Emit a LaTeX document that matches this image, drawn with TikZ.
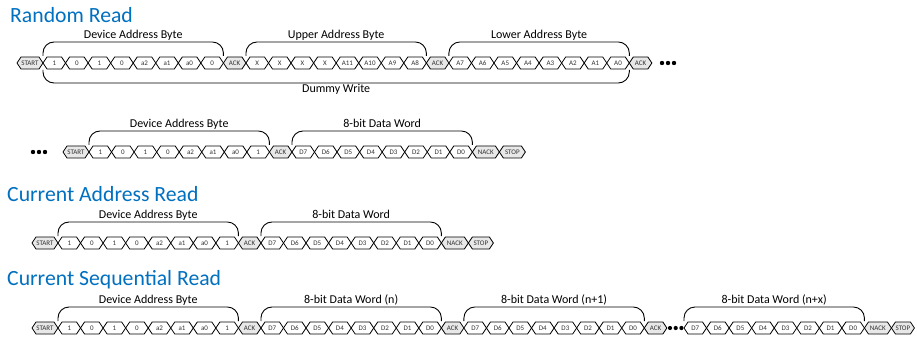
\documentclass[tikz,border=0pt]{standalone}
\usepackage{fontspec}
\setmainfont{Carlito}
\usetikzlibrary{calc}
\definecolor{titleblue}{RGB}{0,112,192}
\colorlet{cw}{white}
\definecolor{cg}{RGB}{232,232,232}
\definecolor{celltxt}{RGB}{50,50,50}
\tikzset{
  cellline/.style={draw=black, line width=0.8pt, line join=miter},
  celltext/.style={font=\fontsize{7}{8}\selectfont, text=celltxt, inner sep=0pt},
  bracepath/.style={draw=black, line width=0.9pt, rounded corners=11pt},
  bracelab/.style={font=\fontsize{12}{14}\selectfont, anchor=base, inner sep=0pt},
  titletext/.style={font=\fontsize{21.7}{24}\selectfont, text=titleblue, anchor=base west, inner sep=0pt},
  dotfill/.style={fill=black}
}
\newcommand\drawcell[6]{%
  \filldraw[cellline, fill=#5] (#2,#4) -- ({#2+4},{#4-6}) -- ({#3-4},{#4-6}) -- (#3,#4) -- ({#3-4},{#4+6}) -- ({#2+4},{#4+6}) -- cycle;
  \coordinate (#1-L) at (#2,#4);
  \coordinate (#1-R) at (#3,#4);
  \node[celltext] (#1) at ({(#2+#3)/2},#4) {#6};
}
\newcommand\busrow[4]{%
  \xdef\curx{#3}%
  \foreach \lab/\w/\f [count=\i] in {#4} {%
    \pgfmathsetmacro\nx{\curx+\w}%
    \drawcell{#1\i}{\curx}{\nx}{#2}{\f}{\lab}%
    \xdef\curx{\nx}%
  }%
}
\newcommand\topbrace[4]{%
  \draw[bracepath] ($(#2)+(0,-7)$) |- ($(#2)!0.5!(#3)+(0,-21)$) -| ($(#3)+(0,-7)$);
  \node[bracelab] (#1) at ($(#2)!0.5!(#3)+(0,-24.5)$) {#4};
}
\def\p{22.55}
\begin{document}
\begin{tikzpicture}[x=1pt,y=-1pt]
\fill[white] (0,0) rectangle (917,339);
\useasboundingbox (0,0) rectangle (917,339);
% titles
\node[titletext] (t1) at (10,22.3) {Random Read};
\node[titletext] (t2) at (7,201) {Current Address Read};
\node[titletext] (t3) at (7,285) {Current Sequential Read};
% row 1
\busrow{r1c}{63}{17}{START/26/cg, 1/\p/cw, 0/\p/cw, 1/\p/cw, 0/\p/cw, a2/\p/cw, a1/\p/cw, a0/\p/cw, 0/\p/cw, ACK/\p/cg, X/\p/cw, X/\p/cw, X/\p/cw, X/\p/cw, A11/\p/cw, A10/\p/cw, A9/\p/cw, A8/\p/cw, ACK/\p/cg, A7/\p/cw, A6/\p/cw, A5/\p/cw, A4/\p/cw, A3/\p/cw, A2/\p/cw, A1/\p/cw, A0/\p/cw, ACK/\p/cg}
\topbrace{b11}{r1c2-L}{r1c9-R}{Device Address Byte}
\topbrace{b12}{r1c11-L}{r1c18-R}{Upper Address Byte}
\topbrace{b13}{r1c20-L}{r1c27-R}{Lower Address Byte}
\draw[bracepath] ($(r1c2-L)+(0,7)$) |- ($(r1c2-L)!0.5!(r1c27-R)+(0,20)$) -| ($(r1c27-R)+(0,7)$);
\node[bracelab] (b14) at ($(r1c2-L)!0.5!(r1c27-R)+(0,30)$) {Dummy Write};
\foreach \k in {0,1,2} \fill[dotfill] (662+6*\k,63) circle (2.2);
% row 2
\foreach \k in {0,1,2} \fill[dotfill] (33+6*\k,152) circle (2.2);
\busrow{r2c}{152}{63}{START/26/cg, 1/\p/cw, 0/\p/cw, 1/\p/cw, 0/\p/cw, a2/\p/cw, a1/\p/cw, a0/\p/cw, 1/\p/cw, ACK/\p/cg, D7/\p/cw, D6/\p/cw, D5/\p/cw, D4/\p/cw, D3/\p/cw, D2/\p/cw, D1/\p/cw, D0/\p/cw, NACK/27/cg, STOP/26/cg}
\topbrace{b21}{r2c2-L}{r2c9-R}{Device Address Byte}
\topbrace{b22}{r2c11-L}{r2c18-R}{8-bit Data Word}
% row 3
\busrow{r3c}{243}{32}{START/26/cg, 1/\p/cw, 0/\p/cw, 1/\p/cw, 0/\p/cw, a2/\p/cw, a1/\p/cw, a0/\p/cw, 1/\p/cw, ACK/\p/cg, D7/\p/cw, D6/\p/cw, D5/\p/cw, D4/\p/cw, D3/\p/cw, D2/\p/cw, D1/\p/cw, D0/\p/cw, NACK/27/cg, STOP/25/cg}
\topbrace{b31}{r3c2-L}{r3c9-R}{Device Address Byte}
\topbrace{b32}{r3c11-L}{r3c18-R}{8-bit Data Word}
% row 4
\busrow{r4c}{328}{32}{START/26/cg, 1/\p/cw, 0/\p/cw, 1/\p/cw, 0/\p/cw, a2/\p/cw, a1/\p/cw, a0/\p/cw, 1/\p/cw, ACK/\p/cg, D7/\p/cw, D6/\p/cw, D5/\p/cw, D4/\p/cw, D3/\p/cw, D2/\p/cw, D1/\p/cw, D0/\p/cw, ACK/\p/cg, D7/\p/cw, D6/\p/cw, D5/\p/cw, D4/\p/cw, D3/\p/cw, D2/\p/cw, D1/\p/cw, D0/\p/cw, ACK/\p/cg}
\foreach \k in {0,1,2} \fill[dotfill] (670+5.7*\k,328) circle (2.1);
\busrow{r5c}{328}{684}{D7/\p/cw, D6/\p/cw, D5/\p/cw, D4/\p/cw, D3/\p/cw, D2/\p/cw, D1/\p/cw, D0/\p/cw, NACK/27/cg, STOP/23/cg}
\topbrace{b41}{r4c2-L}{r4c9-R}{Device Address Byte}
\topbrace{b42}{r4c11-L}{r4c18-R}{8-bit Data Word (n)}
\topbrace{b43}{r4c20-L}{r4c27-R}{8-bit Data Word (n+1)}
\topbrace{b44}{r5c1-L}{r5c8-R}{8-bit Data Word (n+x)}
\end{tikzpicture}
\end{document}
